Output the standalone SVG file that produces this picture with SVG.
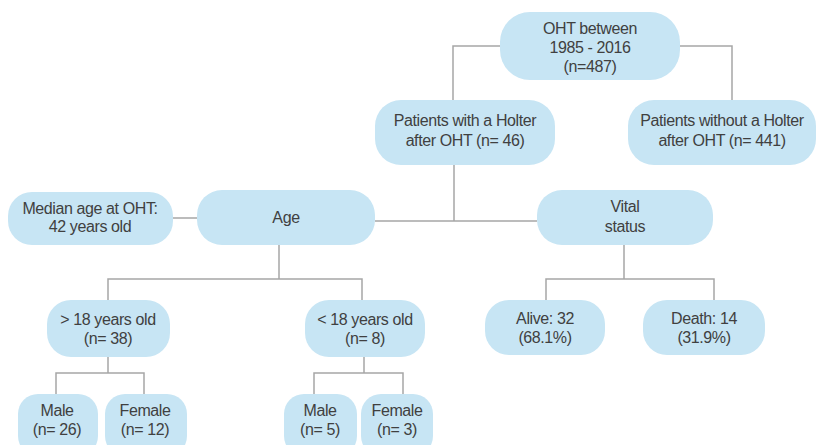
<svg xmlns="http://www.w3.org/2000/svg" width="817" height="445" viewBox="0 0 817 445">
<style>
.n{fill:#c7e5f4;}
.t{font-family:"Liberation Sans",Arial,sans-serif;font-size:16px;fill:#404040;text-anchor:middle;letter-spacing:-0.4px;}
.c{fill:none;stroke:#a6a6a6;stroke-width:1.5;}
</style>
<rect width="817" height="445" fill="#ffffff"/>
<g id="connectors" class="c">
<path d="M500,46 H453 V100"/>
<path d="M680,46 H732 V100"/>
<path d="M454,165 V221"/>
<path d="M375,221 H537"/>
<path d="M173,218 H197"/>
<path d="M279,245 V279 M108,300 V279 H362 V300"/>
<path d="M624,245 V279 M546,300 V279 H714 V300"/>
<path d="M108,357 V373 M56,394 V373 H144 V394"/>
<path d="M364,357 V373 M314,394 V373 H403 V394"/>
</g>
<g id="oht"><rect class="n" x="500" y="12" width="180" height="68" rx="30"/>
<text class="t" x="590" y="34">OHT between</text><text class="t" x="590" y="53">1985 - 2016</text><text class="t" x="590" y="72">(n=487)</text></g>
<g id="with"><rect class="n" x="375" y="100" width="180" height="65" rx="26"/>
<text class="t" x="465" y="126">Patients with a Holter</text><text class="t" x="465" y="146">after OHT (n= 46)</text></g>
<g id="without"><rect class="n" x="628" y="100" width="188" height="65" rx="26"/>
<text class="t" x="722" y="126">Patients without a Holter</text><text class="t" x="722" y="146">after OHT (n= 441)</text></g>
<g id="median"><rect class="n" x="8" y="192" width="165" height="53" rx="24"/>
<text class="t" x="90" y="214">Median age at OHT:</text><text class="t" x="90" y="232">42 years old</text></g>
<g id="age"><rect class="n" x="197" y="190" width="178" height="55" rx="25"/>
<text class="t" x="286" y="223">Age</text></g>
<g id="vital"><rect class="n" x="537" y="190" width="176" height="55" rx="25"/>
<text class="t" x="625" y="212">Vital</text><text class="t" x="625" y="232">status</text></g>
<g id="adult"><rect class="n" x="47" y="300" width="123" height="57" rx="24"/>
<text class="t" x="108" y="325">&gt; 18 years old</text><text class="t" x="108" y="344">(n= 38)</text></g>
<g id="child"><rect class="n" x="305" y="300" width="120" height="57" rx="24"/>
<text class="t" x="365" y="325">&lt; 18 years old</text><text class="t" x="365" y="344">(n= 8)</text></g>
<g id="alive"><rect class="n" x="485" y="300" width="120" height="55" rx="24"/>
<text class="t" x="545" y="324">Alive: 32</text><text class="t" x="545" y="343">(68.1%)</text></g>
<g id="death"><rect class="n" x="643" y="300" width="122" height="55" rx="24"/>
<text class="t" x="704" y="324">Death: 14</text><text class="t" x="704" y="343">(31.9%)</text></g>
<g id="male1"><rect class="n" x="18" y="394" width="80" height="62" rx="20"/>
<text class="t" x="57" y="416">Male</text><text class="t" x="57" y="435">(n= 26)</text></g>
<g id="female1"><rect class="n" x="105" y="394" width="82" height="62" rx="20"/>
<text class="t" x="145" y="416">Female</text><text class="t" x="145" y="435">(n= 12)</text></g>
<g id="male2"><rect class="n" x="284" y="394" width="73" height="62" rx="20"/>
<text class="t" x="320" y="416">Male</text><text class="t" x="320" y="435">(n= 5)</text></g>
<g id="female2"><rect class="n" x="361" y="394" width="72" height="62" rx="20"/>
<text class="t" x="397" y="416">Female</text><text class="t" x="397" y="435">(n= 3)</text></g>
</svg>
